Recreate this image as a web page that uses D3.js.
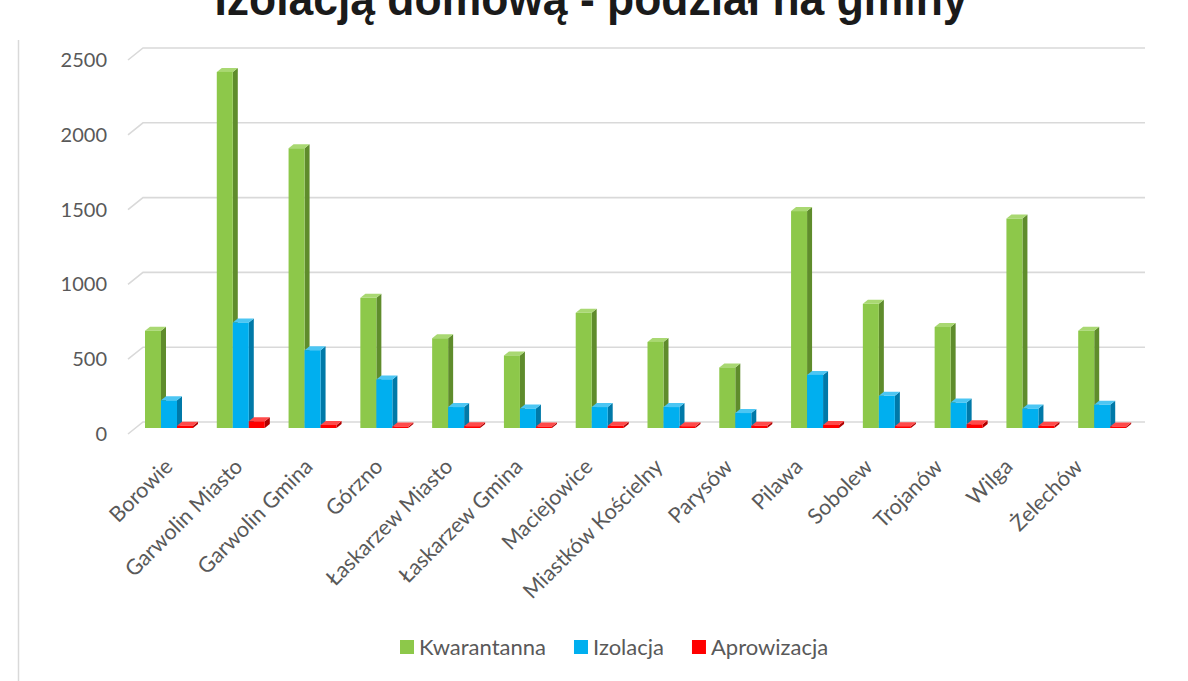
<!DOCTYPE html>
<html><head><meta charset="utf-8">
<script src="https://cdn.jsdelivr.net/npm/d3@7"></script>
<style>body{margin:0;background:#fff}svg{display:block}</style>
</head><body>
<svg id="c" width="1188" height="681"></svg>
<script>
const categories = ["Borowie","Garwolin Miasto","Garwolin Gmina","Górzno","Łaskarzew Miasto","Łaskarzew Gmina","Maciejowice","Miastków Kościelny","Parysów","Pilawa","Sobolew","Trojanów","Wilga","Żelechów"];
const kwarantanna = [650, 2380, 1870, 870, 600, 485, 770, 575, 405, 1450, 830, 675, 1400, 650];
const izolacja = [185, 705, 520, 325, 140, 130, 140, 140, 100, 355, 215, 170, 130, 155];
const aprowizacja = [15, 45, 20, 10, 12, 10, 15, 12, 15, 20, 12, 25, 15, 10];
const seriesNames = ["Kwarantanna","Izolacja","Aprowizacja"];
const yTicks = [0, 500, 1000, 1500, 2000, 2500];
const titleText = "Izolacją domową - podział na gminy";

const front = ["#8DC84A","#00AFEF","#FF0000"];
const side = ["#5F8C2C","#0079A8","#B00000"];
const topc = ["#A9D872","#4CC6F3","#FF4A4A"];

const svg = d3.select("#c");
const font = "Lato, 'Open Sans', sans-serif";

// title (top cut off)
svg.append("text").attr("x", 591).attr("y", 15).attr("text-anchor","middle")
  .attr("font-family","'Liberation Sans Narrow','Liberation Sans',sans-serif")
  .attr("font-weight","bold").attr("font-size",47).attr("fill","#1a1a1a")
  .attr("textLength",753).attr("lengthAdjust","spacingAndGlyphs").text(titleText);

// left border line
svg.append("line").attr("x1",18.5).attr("x2",18.5).attr("y1",40).attr("y2",681)
  .attr("stroke","#d9d9d9").attr("stroke-width",1.5);

const x = d3.scaleBand().domain(categories).range([135, 1140]).padding(0);
const xLab = d3.scalePoint().domain(categories).range([174, 1084]);
const yBack = d3.scaleLinear().domain([0,2500]).range([422,48]);
const yFront = d3.scaleLinear().domain([0,2500]).range([428,54]);
const yLab = d3.scaleLinear().domain([0,2500]).range([434,60]);
const xs = d3.scaleBand().domain(seriesNames).range([10, 58]).padding(0);

// gridlines
const g = svg.append("g");
yTicks.forEach(v => {
  g.append("path").attr("d", `M128,${yBack(v)+12} L143,${yBack(v)} L1145,${yBack(v)}`)
   .attr("fill","none").attr("stroke","#d9d9d9").attr("stroke-width",1.6);
});

// y labels
svg.append("g").selectAll("text").data(yTicks).join("text")
  .attr("x",107).attr("y",d=>yLab(d)).attr("dy","0.35em").attr("text-anchor","end")
  .attr("font-family",font).attr("font-size",20).attr("fill","#595959").text(d=>d);

// bars
const dx = 5, dy = 4;
const data = [kwarantanna, izolacja, aprowizacja];
const bars = svg.append("g");
categories.forEach((c, i) => {
  data.forEach((arr, s) => {
    const v = arr[i];
    const x0 = x(c) + xs(seriesNames[s]);
    const w = xs.bandwidth();
    const yt = yFront(v), yb = yFront(0);
    bars.append("path").attr("d",`M${x0+w},${yt} L${x0+w+dx},${yt-dy} L${x0+w+dx},${yb-dy} L${x0+w},${yb} Z`).attr("fill", side[s]);
    bars.append("path").attr("d",`M${x0},${yt} L${x0+dx},${yt-dy} L${x0+w+dx},${yt-dy} L${x0+w},${yt} Z`).attr("fill", topc[s]);
    bars.append("rect").attr("x",x0).attr("y",yt).attr("width",w).attr("height",yb-yt).attr("fill",front[s]);
  });
});

// x labels
svg.append("g").selectAll("text").data(categories).join("text")
  .attr("transform", d => `translate(${xLab(d)},468) rotate(-45)`)
  .attr("text-anchor","end")
  .attr("font-family",font).attr("font-size",21.5).attr("fill","#595959").text(d=>d);

// legend
const leg = svg.append("g");
let lx = 400;
seriesNames.forEach((n, s) => {
  leg.append("rect").attr("x",lx).attr("y",640).attr("width",14).attr("height",14).attr("fill",front[s]);
  const t = leg.append("text").attr("x",lx+19).attr("y",647).attr("dy","0.35em")
    .attr("font-family",font).attr("font-size",22).attr("fill","#595959").text(n);
  lx += 19 + t.node().getComputedTextLength() + 28;
});
</script>
</body></html>
